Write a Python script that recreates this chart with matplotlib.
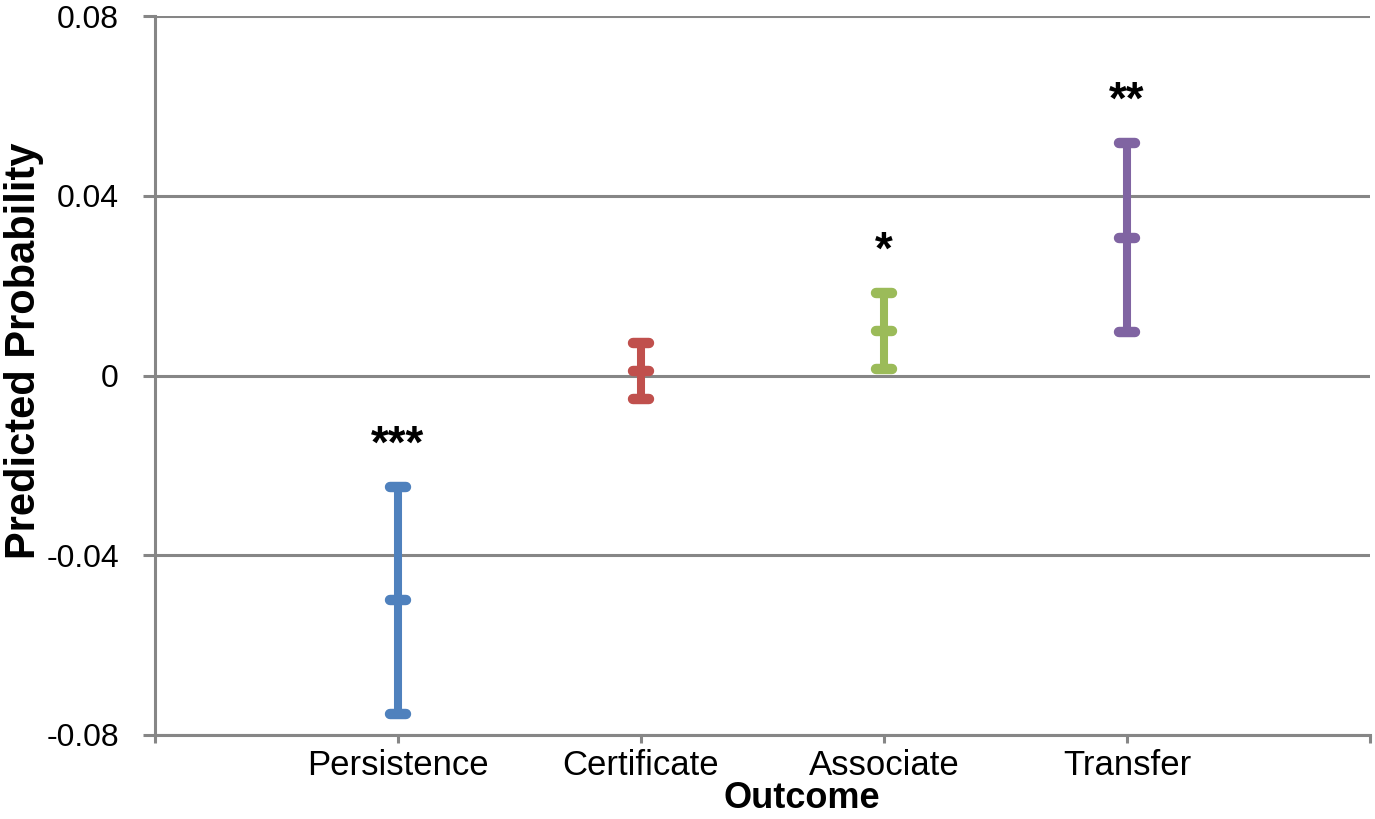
import matplotlib.pyplot as plt
from matplotlib.markers import MarkerStyle

plt.rcParams['font.family'] = ['Liberation Sans', 'DejaVu Sans']

# predicted probability estimates with upper / lower bounds
outcomes = ['Persistence', 'Certificate', 'Associate', 'Transfer']
estimate = [-0.050, 0.001, 0.0099, 0.0306]
upper = [-0.0248, 0.0072, 0.0184, 0.0517]
lower = [-0.0753, -0.0052, 0.0014, 0.0097]
stars = ['***', '', '*', '**']
colors = ['#4F81BD', '#C0504D', '#9BBB59', '#8064A2']

yticks = [-0.08, -0.04, 0, 0.04, 0.08]
ylabels = ['-0.08', '-0.04', '0', '0.04', '0.08']

grey = '#868686'

fig = plt.figure(figsize=(13.75, 8.19), dpi=100)
ax = fig.add_axes([155/1375, 1 - 735/819, (1370-155)/1375, (735-16)/819])

cap = MarkerStyle('_', capstyle='round')
for i, name in enumerate(outcomes):
    x = i + 1
    ax.plot([x, x], [lower[i], upper[i]], color=colors[i], lw=5.8,
            solid_capstyle='butt', zorder=3)
    ax.plot([x, x, x], [lower[i], estimate[i], upper[i]], ls='none',
            marker=cap, ms=11, mew=7.5, color=colors[i], zorder=4)
    if stars[i]:
        ax.text(x, upper[i] + 0.0065, stars[i], ha='center', va='baseline',
                fontsize=33, fontweight='bold')

ax.set_xlim(0, 5)
ax.set_ylim(-0.08, 0.08)
ax.set_xticks([0, 1, 2, 3, 4, 5])
ax.set_xticklabels([''] + outcomes + [''])
ax.set_yticks(yticks)
ax.set_yticklabels(ylabels)

ax.yaxis.grid(True, color=grey, lw=2.2)
ax.set_axisbelow(True)
for s in ['top', 'right']:
    ax.spines[s].set_visible(False)
for s in ['left', 'bottom']:
    ax.spines[s].set_color(grey)
    ax.spines[s].set_linewidth(2.2)
    ax.spines[s].set_zorder(5)

ax.tick_params(axis='y', length=9, width=2.2, color=grey, labelsize=23, pad=17)
ax.tick_params(axis='x', length=6, width=2.2, color=grey, labelsize=25, pad=4)

ax.set_xlabel('Outcome', fontsize=26, fontweight='bold', va='center')
ax.xaxis.set_label_coords(0.532, -0.089)
ax.set_ylabel('Predicted Probability', fontsize=30, fontweight='bold', va='center')
ax.yaxis.set_label_coords(-0.108, 0.535)

fig.savefig('out.png', dpi=100)
